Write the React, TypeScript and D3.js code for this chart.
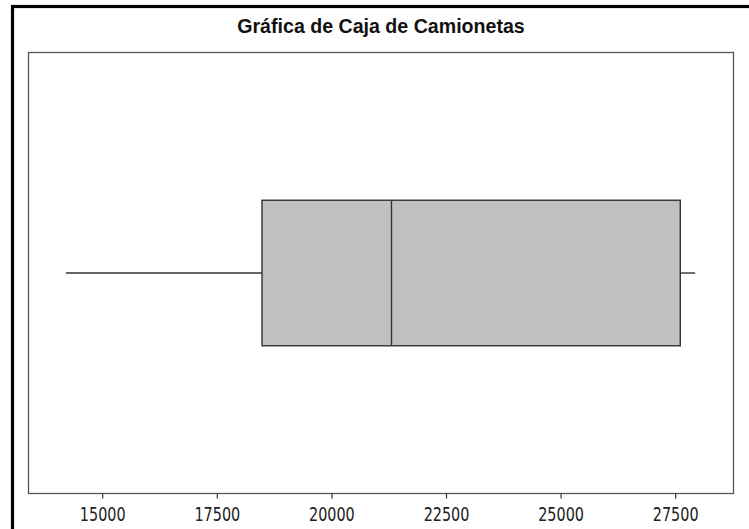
import React from "react";
import * as d3 from "d3";

const title = "Gráfica de Caja de Camionetas";
const statNames = ["min", "q1", "median", "q3", "max"];
const statValues = [14200, 18475, 21300, 27600, 27925];
const tickValues = [15000, 17500, 20000, 22500, 25000, 27500];
const xDomain = [13381, 28761];

const W = 749;
const H = 529;
const plot = { left: 28.5, right: 733.5, top: 52.5, bottom: 493.5 };

export default function App() {
  const s: Record<string, number> = {};
  statNames.forEach((n, i) => (s[n] = statValues[i]));
  const x = d3.scaleLinear().domain(xDomain).range([plot.left, plot.right]);
  const y = d3.scaleLinear().domain([0, 1]).range([plot.bottom, plot.top]);
  const boxTop = y(0.665);
  const boxBot = y(0.335);
  const mid = y(0.5);
  const stroke = "#333";
  return (
    <svg
      width={W}
      height={H}
      style={{ position: "absolute", left: 0, top: 0, background: "#fff" }}
    >
      <rect x={0} y={0} width={W} height={H} fill="#fff" />
      <rect x={12.5} y={6.5} width={W + 20} height={H + 20} fill="none" stroke="#000" strokeWidth={3.2} />
      <text
        x={(plot.left + plot.right) / 2}
        y={32.7}
        textAnchor="middle"
        fontFamily="Liberation Sans, Arial, sans-serif"
        fontWeight="bold"
        fontSize={19.6}
        fill="#111"
      >
        {title}
      </text>
      <rect
        x={plot.left}
        y={plot.top}
        width={plot.right - plot.left}
        height={plot.bottom - plot.top}
        fill="#fff"
        stroke="#555"
        strokeWidth={1.3}
      />
      {/* whiskers */}
      <line x1={x(s.min)} x2={x(s.q1)} y1={mid} y2={mid} stroke={stroke} strokeWidth={1.4} />
      <line x1={x(s.q3)} x2={x(s.max)} y1={mid} y2={mid} stroke={stroke} strokeWidth={1.4} />
      {/* box */}
      <rect
        x={x(s.q1)}
        y={boxTop}
        width={x(s.q3) - x(s.q1)}
        height={boxBot - boxTop}
        fill="#c0c0c0"
        stroke={stroke}
        strokeWidth={1.4}
      />
      <line x1={x(s.median)} x2={x(s.median)} y1={boxTop} y2={boxBot} stroke={stroke} strokeWidth={1.4} />
      {/* axis */}
      {tickValues.map((t) => (
        <g key={t}>
          <line x1={x(t)} x2={x(t)} y1={plot.bottom} y2={plot.bottom + 5} stroke="#333" strokeWidth={1.2} />
          <text
            transform={`translate(${x(t)},520.7) scale(1,1.2)`}
            textAnchor="middle"
            fontFamily="DejaVu Sans Condensed, DejaVu Sans, sans-serif"
            fontStretch="condensed"
            fontSize={16}
            fill="#222"
          >
            {d3.format("d")(t)}
          </text>
        </g>
      ))}
    </svg>
  );
}
